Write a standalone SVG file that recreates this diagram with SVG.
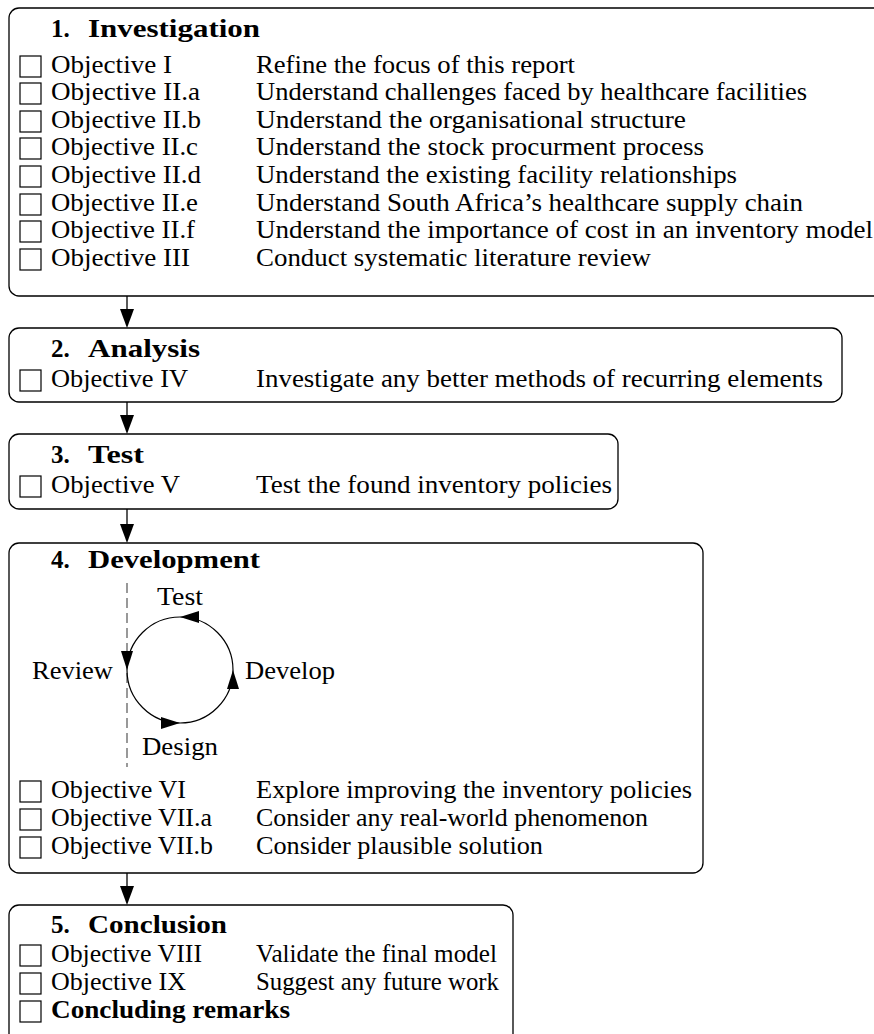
<svg xmlns="http://www.w3.org/2000/svg" width="874" height="1034" viewBox="0 0 874 1034">
<style>
text{font-family:"Liberation Serif","Times New Roman",serif;font-size:25px;fill:#000}
.h{font-weight:bold}
.box{fill:#fff;stroke:#000;stroke-width:1.3}
.cb{fill:#fff;stroke:#000;stroke-width:1.2}
.conn{stroke:#000;stroke-width:1.3;fill:none}
.head{fill:#000}
</style>
<defs>
<rect id="chk" class="cb" x="0" y="0" width="21" height="21"/>
</defs>
<rect width="874" height="1034" fill="#fff"/>

<g id="connectors">
<line class="conn" x1="127" y1="296" x2="127" y2="312"/>
<polygon class="head" points="120,309 134,309 127,328"/>
<line class="conn" x1="127" y1="402" x2="127" y2="418"/>
<polygon class="head" points="120,415 134,415 127,434"/>
<line class="conn" x1="127" y1="509" x2="127" y2="526"/>
<polygon class="head" points="120,524 134,524 127,543"/>
<line class="conn" x1="127" y1="873" x2="127" y2="889"/>
<polygon class="head" points="120,886 134,886 127,905"/>
</g>

<g id="investigation">
<rect class="box" x="9" y="8" width="900" height="288" rx="10"/>
<text class="h" x="51" y="37">1.</text><text class="h" x="88" y="37" textLength="172" lengthAdjust="spacingAndGlyphs">Investigation</text>
<use href="#chk" x="20" y="56"/><text x="51" y="73" textLength="121" lengthAdjust="spacingAndGlyphs">Objective I</text><text x="256" y="73" textLength="319" lengthAdjust="spacingAndGlyphs">Refine the focus of this report</text>
<use href="#chk" x="20" y="83"/><text x="51" y="100" textLength="149" lengthAdjust="spacingAndGlyphs">Objective II.a</text><text x="256" y="100" textLength="551" lengthAdjust="spacingAndGlyphs">Understand challenges faced by healthcare facilities</text>
<use href="#chk" x="20" y="111"/><text x="51" y="128" textLength="150" lengthAdjust="spacingAndGlyphs">Objective II.b</text><text x="256" y="128" textLength="430" lengthAdjust="spacingAndGlyphs">Understand the organisational structure</text>
<use href="#chk" x="20" y="138"/><text x="51" y="155" textLength="147" lengthAdjust="spacingAndGlyphs">Objective II.c</text><text x="256" y="155" textLength="448" lengthAdjust="spacingAndGlyphs">Understand the stock procurment process</text>
<use href="#chk" x="20" y="166"/><text x="51" y="183" textLength="150" lengthAdjust="spacingAndGlyphs">Objective II.d</text><text x="256" y="183" textLength="481" lengthAdjust="spacingAndGlyphs">Understand the existing facility relationships</text>
<use href="#chk" x="20" y="194"/><text x="51" y="211" textLength="147" lengthAdjust="spacingAndGlyphs">Objective II.e</text><text x="256" y="211" textLength="547" lengthAdjust="spacingAndGlyphs">Understand South Africa’s healthcare supply chain</text>
<use href="#chk" x="20" y="221"/><text x="51" y="238" textLength="144" lengthAdjust="spacingAndGlyphs">Objective II.f</text><text x="256" y="238" textLength="617" lengthAdjust="spacingAndGlyphs">Understand the importance of cost in an inventory model</text>
<use href="#chk" x="20" y="249"/><text x="51" y="266" textLength="139" lengthAdjust="spacingAndGlyphs">Objective III</text><text x="256" y="266" textLength="395" lengthAdjust="spacingAndGlyphs">Conduct systematic literature review</text>
</g>

<g id="analysis">
<rect class="box" x="9" y="328" width="833" height="74" rx="10"/>
<text class="h" x="51" y="357">2.</text><text class="h" x="88" y="357" textLength="112" lengthAdjust="spacingAndGlyphs">Analysis</text>
<use href="#chk" x="20" y="370"/><text x="51" y="387" textLength="137" lengthAdjust="spacingAndGlyphs">Objective IV</text><text x="256" y="387" textLength="567" lengthAdjust="spacingAndGlyphs">Investigate any better methods of recurring elements</text>
</g>

<g id="test">
<rect class="box" x="9" y="434" width="609" height="75" rx="10"/>
<text class="h" x="51" y="463">3.</text><text class="h" x="88" y="463" textLength="56" lengthAdjust="spacingAndGlyphs">Test</text>
<use href="#chk" x="20" y="476"/><text x="51" y="493" textLength="129" lengthAdjust="spacingAndGlyphs">Objective V</text><text x="256" y="493" textLength="356" lengthAdjust="spacingAndGlyphs">Test the found inventory policies</text>
</g>

<g id="development">
<rect class="box" x="9" y="543" width="694" height="330" rx="10"/>
<text class="h" x="51" y="568">4.</text><text class="h" x="88" y="568" textLength="172" lengthAdjust="spacingAndGlyphs">Development</text>
<line x1="127" y1="583" x2="127" y2="767" stroke="#555" stroke-width="1.2" stroke-dasharray="10,5"/>
<circle cx="180" cy="670" r="53" fill="none" stroke="#000" stroke-width="1.2"/>
<polygon class="head" points="180,617 199,611 199,623"/>
<polygon class="head" points="127,670 121,651 133,651"/>
<polygon class="head" points="180,723 161,717 161,729"/>
<polygon class="head" points="233,670 227,689 239,689"/>
<text x="157" y="605" textLength="46" lengthAdjust="spacingAndGlyphs">Test</text>
<text x="32" y="679" textLength="81" lengthAdjust="spacingAndGlyphs">Review</text>
<text x="245" y="679" textLength="90" lengthAdjust="spacingAndGlyphs">Develop</text>
<text x="142" y="755" textLength="76" lengthAdjust="spacingAndGlyphs">Design</text>
<use href="#chk" x="20" y="781"/><text x="51" y="798" textLength="135" lengthAdjust="spacingAndGlyphs">Objective VI</text><text x="256" y="798" textLength="436" lengthAdjust="spacingAndGlyphs">Explore improving the inventory policies</text>
<use href="#chk" x="20" y="809"/><text x="51" y="826" textLength="161" lengthAdjust="spacingAndGlyphs">Objective VII.a</text><text x="256" y="826" textLength="392" lengthAdjust="spacingAndGlyphs">Consider any real-world phenomenon</text>
<use href="#chk" x="20" y="837"/><text x="51" y="854" textLength="162" lengthAdjust="spacingAndGlyphs">Objective VII.b</text><text x="256" y="854" textLength="287" lengthAdjust="spacingAndGlyphs">Consider plausible solution</text>
</g>

<g id="conclusion">
<rect class="box" x="9" y="905" width="504" height="160" rx="10"/>
<text class="h" x="51" y="933">5.</text><text class="h" x="88" y="933" textLength="139" lengthAdjust="spacingAndGlyphs">Conclusion</text>
<use href="#chk" x="20" y="945"/><text x="51" y="962" textLength="151" lengthAdjust="spacingAndGlyphs">Objective VIII</text><text x="256" y="962" textLength="241" lengthAdjust="spacingAndGlyphs">Validate the final model</text>
<use href="#chk" x="20" y="973"/><text x="51" y="990" textLength="135" lengthAdjust="spacingAndGlyphs">Objective IX</text><text x="256" y="990" textLength="243" lengthAdjust="spacingAndGlyphs">Suggest any future work</text>
<use href="#chk" x="20" y="1001"/><text class="h" x="51" y="1018" textLength="239" lengthAdjust="spacingAndGlyphs">Concluding remarks</text>
</g>
</svg>
